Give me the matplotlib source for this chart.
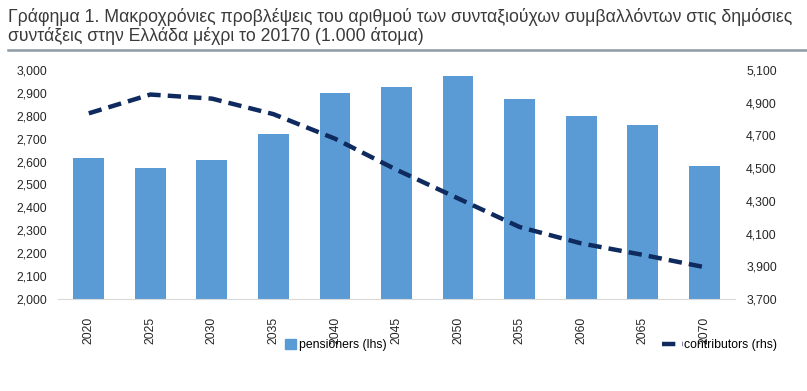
import matplotlib.pyplot as plt
from matplotlib.lines import Line2D
from matplotlib.patches import Patch
import numpy as np

plt.rcParams['font.family'] = ['Liberation Sans', 'DejaVu Sans']

years = ['2020', '2025', '2030', '2035', '2040', '2045', '2050', '2055', '2060', '2065', '2070']
pensioners = [2614, 2571, 2608, 2719, 2901, 2926, 2975, 2873, 2799, 2759, 2581]
contributors = [4835, 4950, 4925, 4830, 4680, 4490, 4315, 4140, 4040, 3970, 3895]

title = ('Γράφημα 1. Μακροχρόνιες προβλέψεις του αριθμού των συνταξιούχων συμβαλλόντων στις δημόσιες\n'
         'συντάξεις στην Ελλάδα μέχρι το 20170 (1.000 άτομα)')

bar_col = '#5b9bd5'
line_col = '#0e2a5e'
txt_col = '#262626'
fs = 8.8

fig = plt.figure(figsize=(8.07, 3.91), dpi=100)
ax = fig.add_axes([0.0719, 0.2353, 0.8389, 0.5857])
x = np.arange(len(years))

ax.bar(x, pensioners, width=0.5, color=bar_col, zorder=2)
ax.set_xlim(-0.5, len(years) - 0.5)
ax.set_ylim(2000, 3000)
ax.set_yticks(np.arange(2000, 3001, 100))
ax.set_yticklabels(['{:,}'.format(v) for v in range(2000, 3001, 100)], fontsize=fs, color=txt_col)
ax.set_xticks(x)
ax.set_xticklabels(years, rotation=90, fontsize=fs, color=txt_col)
ax.tick_params(axis='y', length=0, pad=8)
ax.tick_params(axis='x', length=0, pad=13)
for s in ['top', 'left', 'right']:
    ax.spines[s].set_visible(False)
ax.spines['bottom'].set_color('#d9d9d9')

ax2 = ax.twinx()
ax2.plot(x, contributors, color=line_col, linewidth=3.2, dashes=(3, 1.6), zorder=3)
ax2.set_ylim(3700, 5100)
ax2.set_yticks(np.arange(3700, 5101, 200))
ax2.set_yticklabels(['{:,}'.format(v) for v in range(3700, 5101, 200)], fontsize=fs, color=txt_col)
ax2.tick_params(axis='y', length=0, pad=8)
for s in ['top', 'left', 'right', 'bottom']:
    ax2.spines[s].set_visible(False)

fig.text(0.01, 0.98, title, fontsize=12.7, color='#3a3a3a', va='top', ha='left', linespacing=1.05)
fig.add_artist(Line2D([0.01, 1.0], [0.872, 0.872], color='#8d9ba6', linewidth=1.8))

fig.legend(handles=[Patch(color=bar_col, label='pensioners (lhs)')], loc='center left',
           bbox_to_anchor=(0.345, 0.118), frameon=False, fontsize=fs,
           handlelength=0.9, handleheight=0.9, handletextpad=0.3, borderpad=0)
fig.legend(handles=[Line2D([], [], color=line_col, linewidth=3.2, dashes=(3, 1.6), label='contributors (rhs)')],
           loc='center left', bbox_to_anchor=(0.813, 0.118), frameon=False, fontsize=fs,
           handlelength=1.7, handletextpad=0.1, borderpad=0)

plt.savefig('out.png', dpi=100)
